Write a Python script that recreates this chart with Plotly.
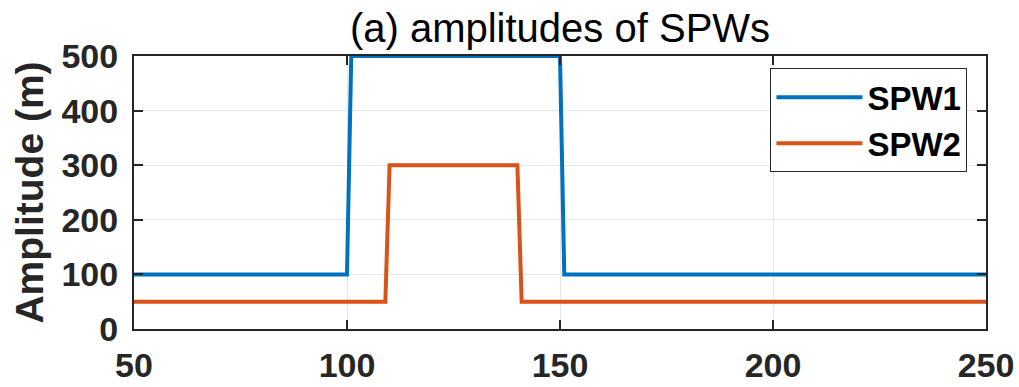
import plotly.graph_objects as go

# Data (breakpoints)
x_spw1 = [50, 100, 101, 150, 151, 250]
y_spw1 = [100, 100, 500, 500, 100, 100]
x_spw2 = [50, 109, 110, 140, 141, 250]
y_spw2 = [50, 50, 300, 300, 50, 50]
names = ["SPW1", "SPW2"]
colors = ["#0072BD", "#D95319"]

W, H = 1019, 387
L, R, T, B = 134, 33, 56, 58

fig = go.Figure()
for xs, ys, nm, c in [(x_spw1, y_spw1, names[0], colors[0]),
                      (x_spw2, y_spw2, names[1], colors[1])]:
    fig.add_trace(go.Scatter(x=xs, y=ys, mode="lines", name=nm,
                             line=dict(color=c, width=4)))

axis_common = dict(
    showline=True, linecolor="#262626", linewidth=2, mirror="ticks",
    ticks="inside", ticklen=9, tickwidth=2, tickcolor="#262626",
    showgrid=True, gridcolor="#E6E6E6", gridwidth=1, zeroline=False,
    automargin=False,
    tickfont=dict(family="Liberation Sans, Arial", size=34, color="#262626", weight="bold"),
)

fig.update_layout(
    width=W, height=H,
    margin=dict(l=L, r=R, t=T, b=B, autoexpand=False),
    paper_bgcolor="white", plot_bgcolor="white",
    title=dict(text="(a) amplitudes of SPWs", x=(L + (W - L - R) / 2) / W, xanchor="center",
               xref="container", yref="container", y=1 - 28 / H, yanchor="middle",
               automargin=False,
               font=dict(family="Liberation Sans, Arial", size=40, color="#000000")),
    xaxis=dict(range=[50, 250], dtick=50, tick0=50, ticklabelstandoff=5, **axis_common),
    yaxis=dict(range=[0, 500], dtick=100, tick0=0, ticklabelstandoff=7,
               title=dict(text="Amplitude (m)", standoff=6,
                          font=dict(family="Liberation Sans, Arial", size=39, color="#262626", weight="bold")),
               **axis_common),
    legend=dict(x=0.747, y=0.955, xanchor="left", yanchor="top",
                bgcolor="white", bordercolor="#262626", borderwidth=1,
                itemwidth=86, tracegroupgap=0,
                font=dict(family="Liberation Sans, Arial", size=33, color="#000000", weight="bold")),
    showlegend=True,
)

fig.write_html("out.html", config={"displayModeBar": False},
               post_script="document.body.style.margin='0';")
